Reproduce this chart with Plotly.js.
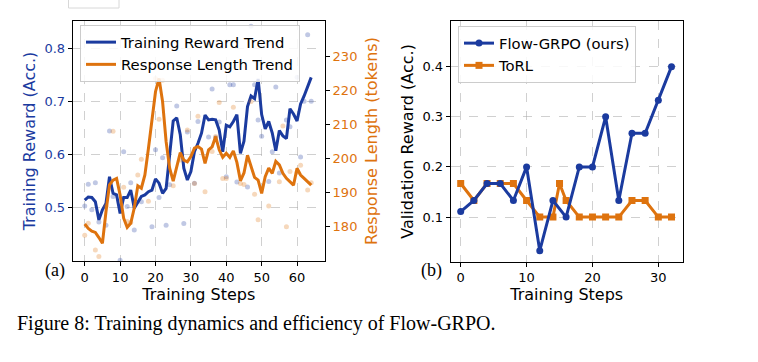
<!DOCTYPE html>
<html>
<head>
<meta charset="utf-8">
<script src="https://cdn.plot.ly/plotly-3.0.1.min.js"></script>
<style>
  html, body { margin: 0; padding: 0; background: #ffffff; }
  #chart { width: 758px; height: 362px; }
</style>
</head>
<body>
<div id="chart"></div>
<script>
// ---------- Panel (a): training dynamics ----------
const steps = [0,1,2,3,4,5,6,7,8,9,10,11,12,13,14,15,16,17,18,19,20,21,22,23,24,25,26,27,28,29,30,31,32,33,34,35,36,37,38,39,40,41,42,43,44,45,46,47,48,49,50,51,52,53,54,55,56,57,58,59,60,61,62,63,64];

const rewardTrend = [0.514,0.520,0.519,0.511,0.477,0.496,0.508,0.558,0.527,0.524,
  0.489,0.519,0.519,0.533,0.499,0.510,0.521,0.524,0.530,0.533,
  0.554,0.546,0.527,0.536,0.599,0.663,0.669,0.637,0.574,0.552,
  0.568,0.605,0.621,0.640,0.674,0.665,0.666,0.665,0.646,0.605,
  0.655,0.652,0.662,0.675,0.602,0.625,0.690,0.710,0.705,0.742,
  0.675,0.648,0.662,0.640,0.607,0.645,0.635,0.630,0.686,0.676,
  0.663,0.695,0.710,0.726,0.745];

const lengthTrend = [180.8,179.5,178.7,178.3,176.8,175.1,184.4,192.3,193.7,194.2,
  189.3,182.5,179.8,181.0,185.5,192.0,191.3,195.2,203.0,211.4,
  219.7,223.6,216.8,205.0,197.2,193.4,198.1,201.8,199.6,199.1,
  200.6,203.1,203.6,202.8,198.6,202.6,203.5,206.5,202.6,200.4,
  201.6,200.4,202.3,198.9,193.5,195.8,201.0,198.0,194.5,193.7,
  189.8,194.7,197.2,195.7,199.2,198.2,195.7,194.2,193.2,192.2,
  197.2,195.2,194.2,193.2,192.2];

const rewardRawSteps = [0,1,2,3,4,6,7,8,10,11,12,13,14,16,19,20,21,22,23,24,26,28,29,31,32,35,36,37,38,40,41,42,43,46,47,48,49,50,52,53,54,55,57,58,60,61,62,63,64];
const rewardRaw = [0.503,0.544,0.496,0.547,0.473,0.467,0.644,0.521,0.401,0.605,
  0.502,0.547,0.458,0.511,0.464,0.609,0.519,0.594,0.467,0.543,
  0.691,0.470,0.642,0.546,0.662,0.633,0.723,0.632,0.661,0.558,
  0.731,0.731,0.548,0.539,0.841,0.731,0.665,0.634,0.549,0.605,
  0.727,0.565,0.665,0.652,0.745,0.595,0.700,0.825,0.700];

const lengthRawSteps = [0,1,3,4,6,8,11,12,13,15,16,18,20,21,22,25,27,29,31,32,34,36,37,38,39,40,42,44,45,47,48,49,52,55,56,57,58,60,61,63,64];
const lengthRaw = [177.5,181.0,173.1,171.2,185.9,208.1,191.6,181.5,181.2,195.2,
  199.8,187.5,223.6,211.6,223.1,192.0,199.6,208.4,192.7,212.5,
  190.3,202.1,206.5,216.5,194.2,194.2,215.1,192.7,192.4,216.8,
  189.5,182.0,186.1,193.2,209.6,180.0,196.2,195.9,198.1,190.8,
  192.9];

const rewardTicks = [0.5,0.6,0.7,0.8];
const lengthTicks = [180,190,200,210,220,230];
const stepTicksA = [0,10,20,30,40,50,60];

// ---------- Panel (b): validation reward ----------
const flowSteps = [0,2,4,6,8,10,12,14,16,18,20,22,24,26,28,30,32];
const flowVals  = [0.111,0.133,0.167,0.167,0.133,0.200,0.033,0.133,0.100,0.200,0.200,0.300,0.133,0.267,0.267,0.333,0.400];
const torlSteps = [0,2,4,6,8,10,12,14,15,16,18,20,22,24,26,28,30,32];
const torlVals  = [0.167,0.133,0.167,0.167,0.167,0.133,0.100,0.100,0.167,0.133,0.100,0.100,0.100,0.100,0.133,0.133,0.100,0.100];
const valTicks = [0.1,0.2,0.3,0.4];
const stepTicksB = [0,10,20,30];

const BLUE = '#1B3B9F';
const ORANGE = '#DE730E';
const FONT = 'DejaVu Sans';
const GRID = 'rgba(170,170,170,0.55)';

const W = 758, H = 362;
const px = v => v / W;
const py = v => (H - v) / H;

const traces = [
  { x: rewardRawSteps, y: rewardRaw, type: 'scatter', mode: 'markers',
    marker: { color: BLUE, size: 5, opacity: 0.28 }, xaxis: 'x', yaxis: 'y',
    showlegend: false, hoverinfo: 'skip' },
  { x: steps, y: rewardTrend, type: 'scatter', mode: 'lines', name: 'Training Reward Trend',
    line: { color: BLUE, width: 3 }, xaxis: 'x', yaxis: 'y', legend: 'legend', legendrank: 1 },
  { x: lengthRawSteps, y: lengthRaw, type: 'scatter', mode: 'markers',
    marker: { color: ORANGE, size: 5, opacity: 0.28 }, xaxis: 'x', yaxis: 'y2',
    showlegend: false, hoverinfo: 'skip' },
  { x: steps, y: lengthTrend, type: 'scatter', mode: 'lines', name: 'Response Length Trend',
    line: { color: ORANGE, width: 3 }, xaxis: 'x', yaxis: 'y2', legend: 'legend', legendrank: 2 },
  { x: torlSteps, y: torlVals, type: 'scatter', mode: 'lines+markers', name: 'ToRL',
    line: { color: ORANGE, width: 3 }, marker: { symbol: 'square', size: 7, color: ORANGE },
    xaxis: 'x2', yaxis: 'y3', legend: 'legend2', legendrank: 2 },
  { x: flowSteps, y: flowVals, type: 'scatter', mode: 'lines+markers', name: 'Flow-GRPO (ours)',
    line: { color: BLUE, width: 3 }, marker: { symbol: 'circle', size: 7, color: BLUE },
    xaxis: 'x2', yaxis: 'y3', legend: 'legend2', legendrank: 1 }
];

const axisBase = {
  showline: true, linecolor: '#000', linewidth: 1, mirror: true,
  ticks: 'outside', ticklen: 4, tickwidth: 1, tickcolor: '#000',
  showgrid: true, gridcolor: GRID, griddash: 'dash', gridwidth: 1,
  zeroline: false, automargin: false,
  tickfont: { family: FONT, size: 13, color: '#000' }
};

const legendBase = {
  xanchor: 'left', yanchor: 'top',
  bgcolor: 'rgba(255,255,255,0.85)', bordercolor: '#cccccc', borderwidth: 1,
  font: { family: FONT, size: 14.8, color: '#000' }, traceorder: 'normal'
};

const layout = {
  width: W, height: H,
  margin: { l: 0, r: 0, t: 0, b: 0 },
  paper_bgcolor: '#fff', plot_bgcolor: '#fff',
  font: { family: FONT, color: '#000' },
  xaxis: Object.assign({}, axisBase, {
    domain: [px(72.7), px(325)], anchor: 'y', range: [-3.4, 67.9],
    tickvals: stepTicksA,
    title: { text: 'Training Steps', font: { family: FONT, size: 16, color: '#000' }, standoff: 4 }
  }),
  yaxis: Object.assign({}, axisBase, {
    domain: [py(261), py(21)], anchor: 'x', range: [0.3996, 0.851],
    tickvals: rewardTicks, ticktext: rewardTicks.map(v => v.toFixed(1)),
    tickfont: { family: FONT, size: 13, color: BLUE },
    title: { text: 'Training Reward (Acc.)', font: { family: FONT, size: 16, color: BLUE }, standoff: 4 }
  }),
  yaxis2: Object.assign({}, axisBase, {
    overlaying: 'y', side: 'right', anchor: 'x', range: [169.9, 240.5],
    tickvals: lengthTicks, showgrid: false, mirror: false,
    tickfont: { family: FONT, size: 13, color: ORANGE },
    title: { text: 'Response Length (tokens)', font: { family: FONT, size: 16, color: ORANGE }, standoff: 9 }
  }),
  xaxis2: Object.assign({}, axisBase, {
    domain: [px(450.7), px(682.7)], anchor: 'y3', range: [-1.52, 33.7],
    tickvals: stepTicksB,
    title: { text: 'Training Steps', font: { family: FONT, size: 16, color: '#000' }, standoff: 4 }
  }),
  yaxis3: Object.assign({}, axisBase, {
    domain: [py(261.7), py(21)], anchor: 'x2', range: [0.011, 0.491],
    tickvals: valTicks, ticktext: valTicks.map(v => v.toFixed(1)),
    title: { text: 'Validation Reward (Acc.)', font: { family: FONT, size: 16, color: '#000' }, standoff: 4 }
  }),
  legend: Object.assign({}, legendBase, { x: px(80), y: py(25) }),
  legend2: Object.assign({}, legendBase, { x: px(458), y: py(26) }),
  annotations: [
    { text: '(a)', xref: 'paper', yref: 'paper', x: px(55), y: py(271), xanchor: 'center', yanchor: 'middle',
      showarrow: false, font: { family: 'Liberation Serif', size: 18, color: '#000' } },
    { text: '(b)', xref: 'paper', yref: 'paper', x: px(431), y: py(271), xanchor: 'center', yanchor: 'middle',
      showarrow: false, font: { family: 'Liberation Serif', size: 18, color: '#000' } },
    { text: 'Figure 8: Training dynamics and efficiency of Flow-GRPO.', xref: 'paper', yref: 'paper',
      x: px(15), y: py(323), xanchor: 'left', yanchor: 'middle', showarrow: false,
      font: { family: 'Liberation Serif', size: 20, color: '#000' } }
  ],
  shapes: [
    { type: 'rect', xref: 'paper', yref: 'paper', x0: px(68.5), x1: px(119), y0: py(8), y1: py(-6),
      line: { color: '#d8d8d8', width: 1 }, fillcolor: 'rgba(0,0,0,0)' }
  ]
};

Plotly.newPlot('chart', traces, layout, { displayModeBar: false, staticPlot: true });
</script>
</body>
</html>
